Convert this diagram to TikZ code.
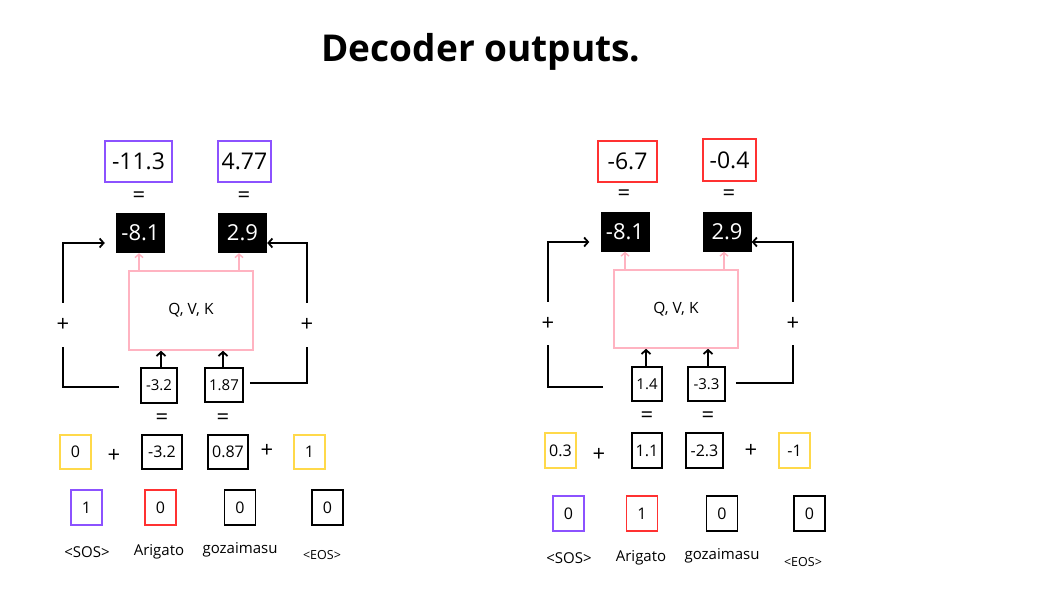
\documentclass[tikz,border=0pt]{standalone}
\usepackage{fontspec}
\setmainfont{Open Sans}
\usetikzlibrary{arrows.meta,calc}
\definecolor{cpurple}{HTML}{8C52FF}
\definecolor{cred}{HTML}{FF3131}
\definecolor{cyellow}{HTML}{FFD94A}
\definecolor{cpink}{HTML}{FFB3C1}
\begin{document}
\begin{tikzpicture}[x=1pt,y=-1pt,
  bx/.style={draw, line width=1.8pt, inner sep=0pt, align=center},
  bignum/.style={bx, font=\fontsize{23}{26}\selectfont},
  blk/.style={fill=black, text=white, inner sep=0pt, minimum width=49pt, minimum height=40pt, font=\fontsize{22}{24}\selectfont},
  midnum/.style={bx, font=\fontsize{15}{17}\selectfont},
  rownum/.style={bx, minimum height=34pt, font=\fontsize{16}{18}\selectfont},
  onehot/.style={bx, minimum width=31pt, minimum height=35pt, font=\fontsize{16}{18}\selectfont},
  eqs/.style={font=\fontsize{22}{24}\selectfont, inner sep=0pt},
  pls/.style={font=\fontsize{22}{24}\selectfont, inner sep=0pt},
  gap/.style={font=\fontsize{22}{24}\selectfont, inner sep=0pt, minimum height=44pt},
  lbl/.style={font=\fontsize{15}{17}\selectfont, inner sep=0pt},
  slbl/.style={font=\fontsize{12.5}{14}\selectfont, inner sep=0pt},
  qvk/.style={draw=cpink, line width=1.6pt, minimum width=124pt, minimum height=79pt, inner sep=0pt, font=\fontsize{15.5}{17}\selectfont},
  ln/.style={line width=1.8pt},
  arr/.style={line width=1.8pt, -{Straight Barb[length=4pt,width=9pt]}},
  parr/.style={draw=cpink, line width=1.4pt, -{Straight Barb[length=3.5pt,width=8pt]}}
]
\fill[white] (0,0) rectangle (1050,591);
\node[font=\fontsize{37}{42}\selectfont\bfseries, inner sep=0pt] (title) at (481,52) {Decoder outputs.};

% ---------------- left panel ----------------
\node[bignum, draw=cpurple, minimum width=67pt, minimum height=41pt] (la) at (138.5,161.5) {-11.3};
\node[bignum, draw=cpurple, minimum width=53pt, minimum height=41pt] (lb) at (244.5,161.5) {4.77};
\node[eqs] (leq1) at (139,197) {=};
\node[eqs] (leq2) at (244,197) {=};
\node[blk] (lk1) at (140.5,233) {-8.1};
\node[blk] (lk2) at (242.5,233) {2.9};
\node[qvk] (lq) at (191,310.5) {Q, V, K};
\node[midnum, minimum width=36pt, minimum height=35pt] (lv1) at (159,385.5) {-3.2};
\node[midnum, minimum width=38pt, minimum height=34pt] (lv2) at (224,385) {1.87};
\node[eqs] (leq3) at (162,419) {=};
\node[eqs] (leq4) at (223,419) {=};
\node[rownum, draw=cyellow, minimum width=31pt] (lr1) at (75.5,452) {0};
\node[pls] (lp1) at (114,456) {+};
\node[rownum, minimum width=40pt] (lr2) at (162,452) {-3.2};
\node[rownum, minimum width=40pt] (lr3) at (228,452) {0.87};
\node[pls] (lp2) at (267,451) {+};
\node[rownum, draw=cyellow, minimum width=31pt] (lr4) at (309.5,452) {1};
\node[onehot, draw=cpurple] (lo1) at (86.5,507.5) {1};
\node[onehot, draw=cred] (lo2) at (160.5,507.5) {0};
\node[onehot] (lo3) at (240,507.5) {0};
\node[onehot] (lo4) at (327.5,507.5) {0};
\node[lbl] (lw1) at (87,552) {<SOS>};
\node[lbl] (lw2) at (159,552) {Arigato};
\node[lbl] (lw3) at (240,550) {gozaimasu};
\node[slbl] (lw4) at (322,555) {<EOS>};
\node[gap] (lgl) at (63,325) {+};
\node[gap] (lgr) at (307,325) {+};

\draw[ln] ($(lv1.west)+(-21,1.5)$) -| (lgl.south);
\draw[arr] (lgl.north) |- ($(lk1.west)+(-11,10)$);
\draw[ln] ($(lv2.east)+(6,-2)$) -| (lgr.south);
\draw[arr] (lgr.north) |- ($(lk2.east)+(0,10)$);
\draw[parr] ($(lq.north -| lk1)+(-1.5,0)$) -- ($(lk1.south)+(-1.5,0)$);
\draw[parr] ($(lq.north -| lk2)+(-3.5,0)$) -- ($(lk2.south)+(-3.5,0)$);
\draw[arr] ($(lv1.north)+(2,0)$) -- ($(lq.south -| lv1)+(2,0)$);
\draw[arr] ($(lv2.north)+(-1,0)$) -- ($(lq.south -| lv2)+(-1,0)$);

% ---------------- right panel ----------------
\node[bignum, draw=cred, minimum width=59pt, minimum height=41pt] (ra) at (627.5,161.5) {-6.7};
\node[bignum, draw=cred, minimum width=53pt, minimum height=42pt] (rb) at (729.5,160) {-0.4};
\node[eqs] (req1) at (624,195) {=};
\node[eqs] (req2) at (729,195) {=};
\node[blk] (rk1) at (625,231.5) {-8.1};
\node[blk] (rk2) at (727,231.5) {2.9};
\node[qvk, minimum height=78pt] (rq) at (676,309) {Q, V, K};
\node[midnum, minimum width=30pt, minimum height=34pt] (rv1) at (647,384) {1.4};
\node[midnum, minimum width=37pt, minimum height=34pt] (rv2) at (706.5,384) {-3.3};
\node[eqs] (req3) at (647,417) {=};
\node[eqs] (req4) at (708,417) {=};
\node[rownum, draw=cyellow, minimum width=31pt, minimum height=35pt] (rr1) at (560.5,450.5) {0.3};
\node[pls] (rp1) at (599,455) {+};
\node[rownum, minimum width=30pt, minimum height=35pt] (rr2) at (647,450.5) {1.1};
\node[rownum, minimum width=37pt, minimum height=35pt] (rr3) at (704.5,450.5) {-2.3};
\node[pls] (rp2) at (751,451) {+};
\node[rownum, draw=cyellow, minimum width=31pt, minimum height=35pt] (rr4) at (794.5,450.5) {-1};
\node[onehot, draw=cpurple] (ro1) at (568.5,513.5) {0};
\node[onehot, draw=cred] (ro2) at (642,513.5) {1};
\node[onehot] (ro3) at (722,513.5) {0};
\node[onehot] (ro4) at (809.5,513.5) {0};
\node[lbl] (rw1) at (569,558) {<SOS>};
\node[lbl] (rw2) at (641,558) {Arigato};
\node[lbl] (rw3) at (722,556) {gozaimasu};
\node[slbl] (rw4) at (803,562) {<EOS>};
\node[gap, minimum height=43pt] (rgl) at (548,323.5) {+};
\node[gap, minimum height=43pt] (rgr) at (793,323.5) {+};

\draw[ln] ($(rv1.west)+(-28,3)$) -| (rgl.south);
\draw[arr] (rgl.north) |- ($(rk1.west)+(-11,10.5)$);
\draw[ln] ($(rv2.east)+(10,-1)$) -| (rgr.south);
\draw[arr] (rgr.north) |- ($(rk2.east)+(0,10.5)$);
\draw[parr] (rq.north -| rk1) -- (rk1.south);
\draw[parr] ($(rq.north -| rk2)+(-3,0)$) -- ($(rk2.south)+(-3,0)$);
\draw[arr] ($(rv1.north)+(-1,0)$) -- ($(rq.south -| rv1)+(-1,0)$);
\draw[arr] ($(rv2.north)+(1.5,0)$) -- ($(rq.south -| rv2)+(1.5,0)$);
\end{tikzpicture}
\end{document}
